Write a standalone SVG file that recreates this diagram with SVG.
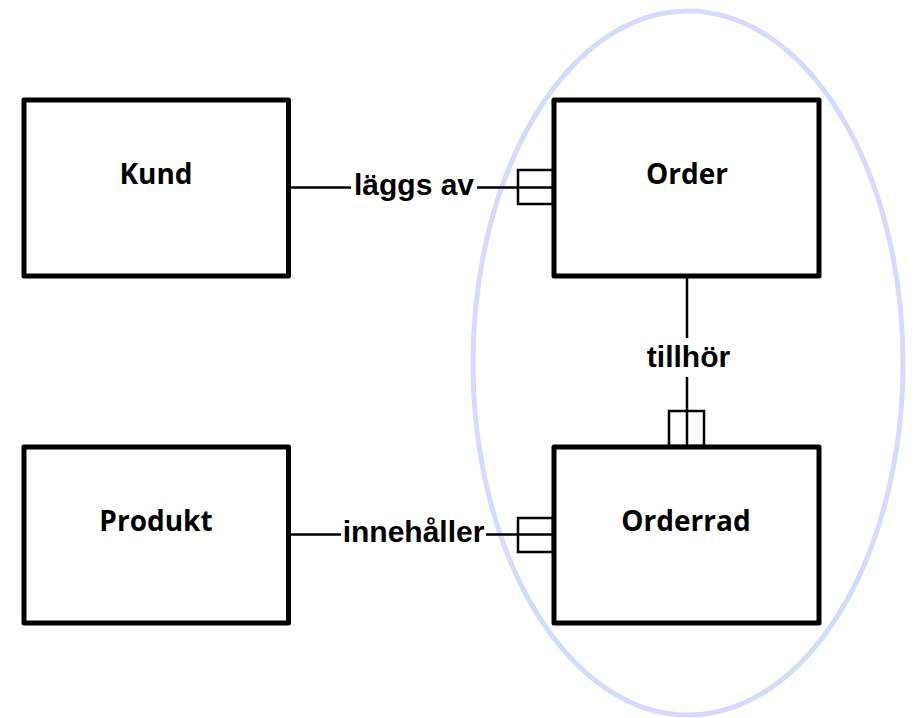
<svg xmlns="http://www.w3.org/2000/svg" width="919" height="718" viewBox="0 0 919 718">
<style>
.box{fill:none;stroke:#000;stroke-width:5;stroke-linejoin:round}
.name{font-family:"Open Sans","Liberation Sans",sans-serif;font-weight:bold;font-size:28px;fill:#000;text-anchor:middle}
.lbl{font-family:"Liberation Sans",Arial,sans-serif;font-weight:bold;font-size:30px;fill:#000;text-anchor:middle}
.ln{fill:none;stroke:#000;stroke-width:2.5}
</style>
<rect width="919" height="718" fill="#fff"/>
<ellipse cx="688" cy="363" rx="215" ry="352" fill="none" stroke="#d5dbfc" stroke-width="5"/>
<g id="connectors">
<g id="c-laggs-av">
<line class="ln" x1="290" y1="187.5" x2="351" y2="187.5"/>
<line class="ln" x1="477" y1="187.5" x2="553" y2="187.5"/>
<rect class="ln" x="518" y="170" width="35" height="34"/>
<text class="lbl" x="414" y="195">läggs av</text>
</g>
<g id="c-tillhor">
<line class="ln" x1="687" y1="276" x2="687" y2="338"/>
<line class="ln" x1="687" y1="377" x2="687" y2="446"/>
<rect class="ln" x="669" y="411" width="35" height="35"/>
<text class="lbl" x="688.5" y="367">tillhör</text>
</g>
<g id="c-innehaller">
<line class="ln" x1="290" y1="534.5" x2="341" y2="534.5"/>
<line class="ln" x1="486" y1="534.5" x2="553" y2="534.5"/>
<rect class="ln" x="518" y="518" width="35" height="34"/>
<text class="lbl" x="413.5" y="542">innehåller</text>
</g>
</g>
<g id="kund">
<rect class="box" x="24" y="100" width="264.5" height="176"/>
<text class="name" x="156" y="184">Kund</text>
</g>
<g id="order">
<rect class="box" x="554" y="100" width="265" height="176"/>
<text class="name" x="687" y="184">Order</text>
</g>
<g id="produkt">
<rect class="box" x="24" y="447" width="264.5" height="176"/>
<text class="name" x="156" y="531">Produkt</text>
</g>
<g id="orderrad">
<rect class="box" x="554" y="447" width="265" height="176"/>
<text class="name" x="686" y="531">Orderrad</text>
</g>
</svg>
